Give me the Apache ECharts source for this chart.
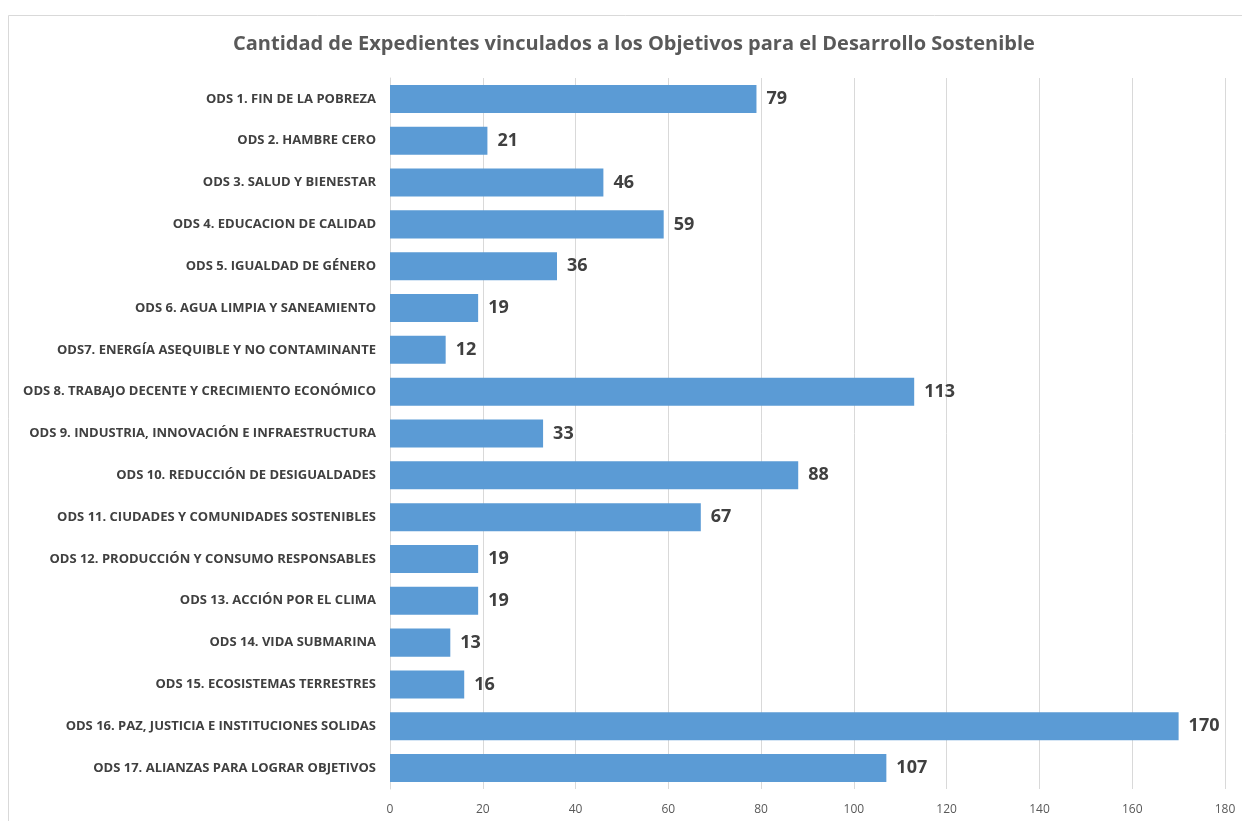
<!DOCTYPE html>
<html>
<head>
<meta charset="utf-8">
<script src="https://cdn.jsdelivr.net/npm/echarts@6/dist/echarts.min.js"></script>
<style>
  html, body { margin: 0; padding: 0; background: #fff; }
  #chart { width: 1242px; height: 821px; }
</style>
</head>
<body>
<div id="chart"></div>
<script>
  // categorías (de arriba hacia abajo)
  const categories = [
    'ODS 1. FIN DE LA POBREZA',
    'ODS 2. HAMBRE CERO',
    'ODS 3. SALUD Y BIENESTAR',
    'ODS 4. EDUCACION DE CALIDAD',
    'ODS 5. IGUALDAD DE GÉNERO',
    'ODS 6. AGUA LIMPIA Y SANEAMIENTO',
    'ODS7. ENERGÍA ASEQUIBLE Y NO CONTAMINANTE',
    'ODS 8. TRABAJO DECENTE Y CRECIMIENTO ECONÓMICO',
    'ODS 9. INDUSTRIA, INNOVACIÓN E INFRAESTRUCTURA',
    'ODS 10. REDUCCIÓN DE DESIGUALDADES',
    'ODS 11. CIUDADES Y COMUNIDADES SOSTENIBLES',
    'ODS 12. PRODUCCIÓN Y CONSUMO RESPONSABLES',
    'ODS 13. ACCIÓN POR EL CLIMA',
    'ODS 14. VIDA SUBMARINA',
    'ODS 15. ECOSISTEMAS TERRESTRES',
    'ODS 16. PAZ, JUSTICIA E INSTITUCIONES SOLIDAS',
    'ODS 17. ALIANZAS PARA LOGRAR OBJETIVOS'
  ];
  // cantidad de expedientes
  const expedientes = [79, 21, 46, 59, 36, 19, 12, 113, 33, 88, 67, 19, 19, 13, 16, 170, 107];

  const chart = echarts.init(document.getElementById('chart'));
  chart.setOption({
    backgroundColor: '#ffffff',
    animation: false,
    textStyle: { fontFamily: 'Open Sans' },
    graphic: [{
      type: 'rect',
      shape: { x: 8.5, y: 15.5, width: 1260, height: 840 },
      style: { fill: 'none', stroke: '#d9d9d9', lineWidth: 1 },
      silent: true
    }],
    title: {
      text: 'Cantidad de Expedientes vinculados a los Objetivos para el Desarrollo Sostenible',
      left: 228,
      top: 29,
      textStyle: { fontSize: 20, fontWeight: 'bold', color: '#595959', fontFamily: 'Open Sans' }
    },
    grid: { left: 390, right: 17, top: 78, bottom: 32, containLabel: false },
    xAxis: {
      type: 'value',
      min: 0,
      max: 180,
      interval: 20,
      axisLine: { show: false },
      axisTick: { show: false },
      axisLabel: { color: '#595959', fontSize: 12, margin: 15 },
      splitLine: { lineStyle: { color: '#d9d9d9', width: 1 } }
    },
    yAxis: {
      type: 'category',
      inverse: true,
      data: categories,
      axisLine: { show: true, lineStyle: { color: '#d9d9d9' } },
      axisTick: { show: false },
      axisLabel: {
        color: '#404040',
        fontSize: 13,
        fontWeight: 'bold',
        margin: 14,
        fontFamily: 'Open Sans'
      }
    },
    series: [{
      type: 'bar',
      data: expedientes,
      barCategoryGap: '33%',
      itemStyle: { color: '#5b9bd5' },
      label: {
        show: true,
        position: 'right',
        distance: 10,
        color: '#404040',
        fontSize: 18,
        fontWeight: 'bold'
      }
    }]
  });
</script>
</body>
</html>
